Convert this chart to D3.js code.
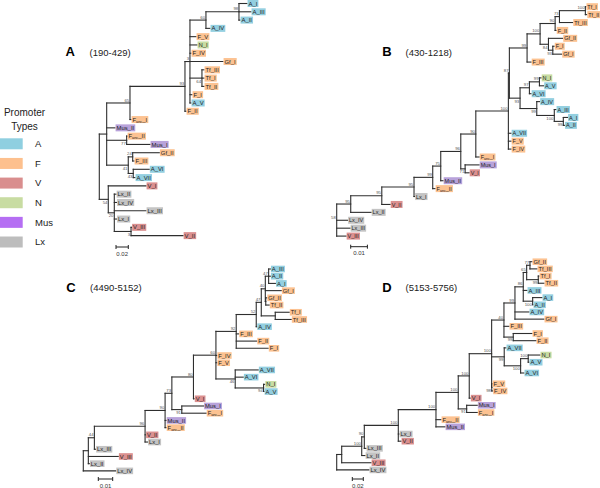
<!DOCTYPE html>
<html><head><meta charset="utf-8">
<script src="https://cdn.jsdelivr.net/npm/d3@7"></script>
<style>body{margin:0;background:#fff}svg{display:block}</style>
</head><body>
<svg id="chart" width="600" height="488"></svg>
<script>
// ---------------- data ----------------
const promoterTypes = ["A", "F", "V", "N", "Mus", "Lx"];
const legendColors = ["#8fcfe0", "#fdc08e", "#d98e8e", "#c8dca2", "#b56ef3", "#bdbdbd"];
const labelColors = ["#93cfe0", "#fcc291", "#db9090", "#c8dca2", "#b8a2da", "#c4c4c4"];
const panelLetters = ["A", "B", "C", "D"];
const panelRanges = ["(190-429)", "(430-1218)", "(4490-5152)", "(5153-5756)"];
const scaleBarValues = [0.02, 0.01, 0.01, 0.02];
const scaleBarLabels = ["0.02", "0.01", "0.01", "0.02"];

// Newick trees: leaf:branchLength, internal nodes labelled by bootstrap
const treeA = "(((((((A_I:0.0130,A_III:0.0195,A_II:0.0016)98:0.0537,A_IV:0.0065)60:0.0260,F_V:0.0098,N_I:0.0114,F_IV:0.0016,Gf_I:0.0537,(Tf_III:0.0033,Tf_I:0.0033,Tf_II:0.0033)64:0.0195,F_I:0.0033,A_V:0.0016)3:0.0081,F_II:0.0016)93:0.0894,Fanc_I:0.0016)65:0.0379,Mus_II:0.0135,(Fanc_II:0.0005,Mus_I:0.0379)77:0.0325,((Gf_II:0.0433,F_III:0.0021)24:0.0072,(A_VI:0.0260,A_VII:0.0028)43:0.0081)41:0.0351):0.0120,(V_I:0.0613,(Lx_II:0.0028,Lx_IV:0.0036,Lx_III:0.0515,Lx_I:0.0036,(V_III:0.0008,V_II:0.0846)3:0.0272)20:0.0098)54:0.0146)";
const treeB = "(((((((((((((((Tf_I:0.0003,Tf_II:0.0008)100:0.0155,Tf_III:0.0079)73:0.0026,F_II:0.0006)90:0.0090,(Gf_II:0.0085,(F_I:0.0008,Gf_I:0.0053)93:0.0026)84:0.0050)100:0.0078,F_III:0.0024)99:0.0106,(((N_I:0.0010,A_V:0.0025)99:0.0060,A_VI:0.0010)97:0.0056,(A_IV:0.0017,(A_III:0.0010,(A_I:0.0025,A_II:0.0007)99:0.0054)100:0.0105)99:0.0100)93:0.0064)87:0.0006,A_VII:0.0016,F_V:0.0016,F_IV:0.0016)100:0.0195,Fanc_I:0.0020)90:0.0090,(Mus_I:0.0084,V_I:0.0024)71:0.0026)96:0.0120,Mus_II:0.0014)75:0.0048,Fanc_II:0.0014)99:0.0112,Lx_I:0.0003)95:0.0193,V_II:0.0050)95:0.0186,Lx_II:0.0122)95:0.0084,Lx_IV:0.0065,Lx_III:0.0080,V_III:0.0056)58";
const treeC = "(((((((((((((A_III:0.0012,A_II:0.0012,A_I:0.0047)47:0.0023,Gf_I:0.0111,(Gf_II:0.0007,Tf_II:0.0024):0.0003)40:0.0028,(Tf_I:0.0097,Tf_III:0.0111):0.0097)47:0.0035,A_IV:0.0003)52:0.0139,F_III:0.0017,F_II:0.0142,F_I:0.0222)92:0.0141,F_IV:0.0006,F_V:0.0006,(A_VII:0.0160,A_VI:0.0056,(N_I:0.0008,A_V:0.0003)94:0.0197)46:0.0134)60:0.0156,V_I:0.0005)80:0.0150,(Mus_I:0.0151,Fanc_I:0.0169)91:0.0069)73:0.0047,Mus_II:0.0007,Fanc_II:0.0007)90:0.0139,V_II:0.0003,Lx_I:0.0017)96:0.0352,Lx_III:0.0008)44:0.0042,V_III:0.0208,Lx_II:0.0007):0.0035,Lx_IV:0.0225)";
const treeD = "((((((((((((((Gf_II:0.0036,Tf_III:0.0127)77:0.0060,(Tf_I:0.0013,Tf_II:0.0104)99:0.0211)65:0.0062,A_III:0.0067,(A_I:0.0169,A_II:0.0005)100:0.0171)86:0.0151,A_IV:0.0255,Gf_I:0.0527)99:0.0200,F_III:0.0091,(F_I:0.0340,F_II:0.0413)99:0.0169)40:0.0224,(A_VII:0.0031,((N_I:0.0213,A_V:0.0013)100:0.0138,A_VI:0.0060)100:0.0298)99:0.0229,(F_V:0.0005,F_IV:0.0015)98:0.0002)100:0.0407,V_I:0.0018)100:0.0200,(Mus_I:0.0193,Fanc_I:0.0193)91:0.0153)100:0.0405,Fanc_II:0.0091,Mus_II:0.0164)100:0.0685,Lx_I:0.0013,V_II:0.0049)100:0.0618,Lx_III:0.0031)90:0.0047,Lx_II:0.0060)100:0.0364,V_III:0.0533):0.0091,Lx_IV:0.0587)";
const trees = [treeA, treeB, treeC, treeD];

// ---------------- layout ----------------
const layouts = [
  {rootX: 99.3, ppu: 615, top: 3.5, step: 8.29, sbX: 116, sbY: 247, lx: 65.5, ly: 56, rx: 89.5, fs: 5.9, gaps: {}},
  {rootX: 336.7, ppu: 1670, top: 6.7, step: 7.91, sbX: 350.7, sbY: 246.7, lx: 382.3, ly: 56, rx: 405.5, fs: 5.5, gaps: {N_I: 1}},
  {rootX: 83.3, ppu: 1440, top: 269, step: 7.21, sbX: 98.3, sbY: 479, lx: 66.3, ly: 291.7, rx: 90, fs: 5.8, gaps: {}},
  {rootX: 336.7, ppu: 550, top: 261.7, step: 7.18, sbX: 352.3, sbY: 479, lx: 382.3, ly: 291.7, rx: 405.5, fs: 5.8, gaps: {A_VI: 0.5, F_V: 0.5}}
];
const FONT = "'Liberation Sans', Arial, Helvetica, sans-serif";

function parseNewick(s) {
  let i = 0;
  function node() {
    const n = {children: []};
    if (s[i] === "(") {
      i++;
      n.children.push(node());
      while (s[i] === ",") { i++; n.children.push(node()); }
      i++;
    }
    let name = "";
    while (i < s.length && !",():;".includes(s[i])) name += s[i++];
    n.name = name;
    n.length = 0;
    if (s[i] === ":") {
      i++;
      let num = "";
      while (i < s.length && !",();".includes(s[i])) num += s[i++];
      n.length = +num;
    }
    if (!n.children.length) delete n.children;
    return n;
  }
  return node();
}

function typeOf(name) {
  const p = name.split("_")[0];
  if (p === "A") return "A";
  if (p === "V") return "V";
  if (p === "N") return "N";
  if (p === "Mus") return "Mus";
  if (p === "Lx") return "Lx";
  return "F";
}
const colorScale = d3.scaleOrdinal().domain(promoterTypes).range(labelColors);
const legendScale = d3.scaleOrdinal().domain(promoterTypes).range(legendColors);

const svg = d3.select("#chart");

trees.forEach((nw, ti) => {
  const L = layouts[ti];
  const root = d3.hierarchy(parseNewick(nw));
  root.eachBefore(d => { d.dist = d.parent ? d.parent.dist + d.data.length : 0; });
  const xs = d3.scaleLinear().domain([0, 0.1]).range([L.rootX, L.rootX + 0.1 * L.ppu]);
  const leaves = root.leaves();
  let slot = 0;
  leaves.forEach((lf, k) => {
    if (k > 0) slot += 1 + (L.gaps[lf.data.name] || 0);
    lf.slot = slot;
  });
  const ys = d3.scaleLinear().domain([0, 1]).range([L.top, L.top + L.step]);
  leaves.forEach(lf => { lf.py = ys(lf.slot); });
  root.eachAfter(d => {
    if (d.children) d.py = (d.children[0].py + d.children[d.children.length - 1].py) / 2;
  });
  root.each(d => { d.px = xs(d.dist); });

  const g = svg.append("g");
  const nodes = root.descendants();
  g.selectAll("line.h").data(nodes.filter(d => d.parent)).join("line")
    .attr("x1", d => d.parent.px).attr("x2", d => d.px)
    .attr("y1", d => d.py).attr("y2", d => d.py)
    .attr("stroke", "#2e2e2e").attr("stroke-width", 1.1).attr("stroke-linecap", "square");
  g.selectAll("line.v").data(nodes.filter(d => d.children)).join("line")
    .attr("x1", d => d.px).attr("x2", d => d.px)
    .attr("y1", d => d.children[0].py).attr("y2", d => d.children[d.children.length - 1].py)
    .attr("stroke", "#2e2e2e").attr("stroke-width", 1.1).attr("stroke-linecap", "square");
  g.selectAll("text.bs").data(nodes.filter(d => d.children && d.data.name)).join("text")
    .attr("x", d => d.px - 0.8)
    .attr("y", d => (!d.parent || d.parent.children[0] === d) ? d.py - 1.4 : d.py + 4.4)
    .attr("text-anchor", "end").attr("font-family", FONT).attr("font-size", 4.3)
    .attr("fill", "#555").text(d => d.data.name);
  const lg = g.selectAll("g.leaf").data(leaves).join("g")
    .attr("transform", d => `translate(${d.px},${d.py})`);
  const rects = lg.append("rect");
  const texts = lg.append("text").attr("x", 1.5).attr("y", 2.1)
    .attr("font-family", FONT).attr("font-size", L.fs).attr("fill", "#222");
  texts.each(function(d) {
    const t = d3.select(this);
    const nm = d.data.name;
    if (nm.startsWith("Fanc")) {
      t.append("tspan").text("F");
      t.append("tspan").attr("font-size", L.fs * 0.65).attr("dy", 1.2).text("anc");
      t.append("tspan").attr("dy", -1.2).text(nm.slice(4));
    } else t.text(nm);
  });
  rects.each(function(d, k) {
    const w = texts.nodes()[k].getComputedTextLength();
    const h = Math.min(7, L.step - 0.6);
    d3.select(this).attr("x", 0.6).attr("y", -h / 2).attr("width", w + 2).attr("height", h)
      .attr("fill", colorScale(typeOf(d.data.name)));
  });

  const sbw = xs(scaleBarValues[ti]) - xs(0);
  const sb = svg.append("g").attr("stroke", "#222").attr("stroke-width", 1);
  sb.append("line").attr("x1", L.sbX).attr("x2", L.sbX + sbw).attr("y1", L.sbY).attr("y2", L.sbY);
  sb.append("line").attr("x1", L.sbX).attr("x2", L.sbX).attr("y1", L.sbY - 2).attr("y2", L.sbY + 2);
  sb.append("line").attr("x1", L.sbX + sbw).attr("x2", L.sbX + sbw).attr("y1", L.sbY - 2).attr("y2", L.sbY + 2);
  svg.append("text").attr("x", L.sbX + sbw / 2).attr("y", L.sbY + 8.5).attr("text-anchor", "middle")
    .attr("font-family", FONT).attr("font-size", 6).attr("fill", "#333").text(scaleBarLabels[ti]);

  svg.append("text").attr("x", L.lx).attr("y", L.ly).attr("font-family", FONT)
    .attr("font-weight", "bold").attr("font-size", 13).attr("fill", "#000").text(panelLetters[ti]);
  svg.append("text").attr("x", L.rx).attr("y", L.ly - 0.5).attr("font-family", FONT)
    .attr("font-size", 9.5).attr("fill", "#222").text(panelRanges[ti]);
});

// legend
const lgd = svg.append("g");
lgd.append("text").attr("x", 24.5).attr("y", 116).attr("text-anchor", "middle")
  .attr("font-family", FONT).attr("font-size", 10).attr("fill", "#222").text("Promoter");
lgd.append("text").attr("x", 24.5).attr("y", 129.5).attr("text-anchor", "middle")
  .attr("font-family", FONT).attr("font-size", 10).attr("fill", "#222").text("Types");
const ly = d3.scalePoint().domain(promoterTypes).range([143.8, 242]);
lgd.selectAll("rect").data(promoterTypes).join("rect")
  .attr("x", 0).attr("y", d => ly(d) - 5.5).attr("width", 22.7).attr("height", 11)
  .attr("fill", d => legendScale(d));
lgd.selectAll("text.lt").data(promoterTypes).join("text")
  .attr("x", 35).attr("y", d => ly(d) + 3.4).attr("font-family", FONT).attr("font-size", 9.5)
  .attr("fill", "#222").text(d => d);
</script>
</body></html>
